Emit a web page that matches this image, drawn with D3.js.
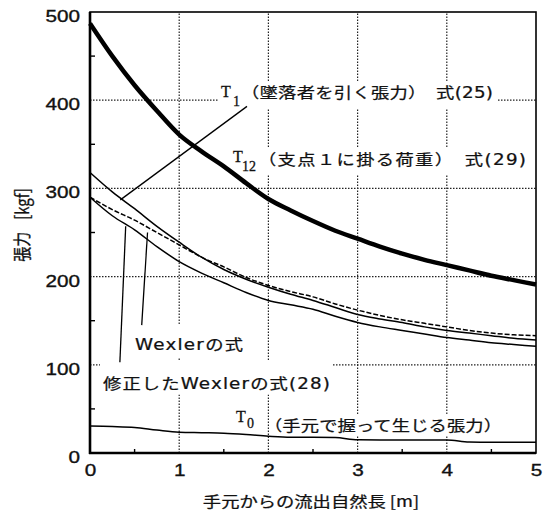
<!DOCTYPE html>
<html>
<head>
<meta charset="utf-8">
<script src="https://cdn.jsdelivr.net/npm/d3@7"></script>
<style>
  html, body { margin: 0; padding: 0; background: #fff; }
  svg { display: block; }
</style>
</head>
<body>
<svg id="chart" width="548" height="516"></svg>
<script>
// Natural slack length paid out from the hand [m]
const lengthM = [0, 0.25, 0.5, 0.75, 1, 1.25, 1.5, 1.75, 2, 2.25, 2.5, 2.75, 3, 3.25, 3.5, 3.75, 4, 4.25, 4.5, 4.75, 5];
// Tension series [kgf]
const tensionT12 = [487, 450, 417, 388, 361, 342, 325, 306, 288, 275, 263, 252, 243, 234, 226, 219, 213, 207, 201, 196, 191];
const tensionT1 = [318, 296, 277, 257, 239, 222, 208, 197, 188, 180, 173, 165, 157, 152, 148, 143, 139, 136, 133, 130, 128];
const tensionWexler = [290, 276, 264, 250, 236, 222, 211, 199, 190, 183, 177, 169, 162, 156, 151, 147, 143, 139, 136, 134, 133];
const tensionWexlerModified = [290, 269, 253, 234, 217, 204, 193, 182, 173, 168, 163, 155, 148, 143, 139, 135, 131, 128, 125, 123, 121];
const tensionT0 = [30.5, 30, 29, 26, 23.5, 23, 22.5, 21, 19, 17.8, 17.8, 17.5, 15, 14.8, 14.8, 14.8, 14.8, 12.5, 12.2, 12.2, 12.2];

// Axes
const xTickValues = [0, 1, 2, 3, 4, 5];
const yTickValues = [0, 100, 200, 300, 400, 500];
const xMinorTicks = [0.5, 1.5, 2.5, 3.5, 4.5];
const yMinorTicks = [50, 150, 250, 350, 450];
const xGridValues = [1, 2, 3, 4];
const yGridValues = [100, 200, 300, 400];
const xAxisTitle = "手元からの流出自然長 [m]";
const yAxisTitle = ["張力", "[kgf]"];

// Curve annotations
const symbolSubscripts = ["1", "12", "0"];
const curveNotes = [
  "（墜落者を引く張力）　式(25)",
  "（支点１に掛る荷重）　式(29)",
  "（手元で握って生じる張力）",
  "Wexlerの式",
  "修正したWexlerの式(28)"
];
// Leader lines: [from, to] in [m, kgf]
const leaderT1 = [[0.34, 287], [1.76, 393]];
const leaderWexlerModified = [[0.335, 103], [0.40, 257]];
const leaderWexler = [[0.58, 145], [0.645, 250]];

const SX = 1.22; // horizontal stretch of all lettering
const JP = "'Noto Sans CJK JP', 'Noto Sans CJK SC', sans-serif";
const LATIN = "'DejaVu Sans', 'Liberation Sans', sans-serif";
const NUM = "'Liberation Sans', Arial, sans-serif";
const SERIF = "'Liberation Serif', 'Times New Roman', serif";
const INK = "#111";

const svg = d3.select("#chart");
const x = d3.scaleLinear().domain([0, 5]).range([90, 536]);
const y = d3.scaleLinear().domain([0, 500]).range([453, 12]);

const gGrid = svg.append("g");
const gBoxes = svg.append("g");
const gCurves = svg.append("g");
const gFrame = svg.append("g");
const gText = svg.append("g");

// Dotted grid
gGrid.selectAll("line.vx").data(xGridValues).join("line")
  .attr("x1", d => x(d)).attr("x2", d => x(d))
  .attr("y1", y(0)).attr("y2", y(500))
  .attr("stroke", "#222").attr("stroke-width", 1.2).attr("stroke-dasharray", "1.5,1.5");
gGrid.selectAll("line.hy").data(yGridValues).join("line")
  .attr("x1", x(0)).attr("x2", x(5))
  .attr("y1", d => y(d)).attr("y2", d => y(d))
  .attr("stroke", "#222").attr("stroke-width", 1.2).attr("stroke-dasharray", "1.5,1.5");

// Curves
const line = d3.line()
  .x((d, i) => x(lengthM[i]))
  .y(d => y(d))
  .curve(d3.curveMonotoneX);

const series = [
  { values: tensionT12, width: 4.5, dash: null },
  { values: tensionT1, width: 1.5, dash: null },
  { values: tensionWexler, width: 1.5, dash: "5,2" },
  { values: tensionWexlerModified, width: 1.5, dash: null },
  { values: tensionT0, width: 1.5, dash: null }
];
gCurves.selectAll("path.series").data(series).join("path")
  .attr("class", "series")
  .attr("d", d => line(d.values))
  .attr("fill", "none")
  .attr("stroke", "#000")
  .attr("stroke-width", d => d.width)
  .attr("stroke-dasharray", d => d.dash)
  .attr("stroke-linejoin", "round");

// Leader lines
gCurves.selectAll("line.leader").data([leaderT1, leaderWexlerModified, leaderWexler]).join("line")
  .attr("class", "leader")
  .attr("x1", d => x(d[0][0])).attr("y1", d => y(d[0][1]))
  .attr("x2", d => x(d[1][0])).attr("y2", d => y(d[1][1]))
  .attr("stroke", "#000").attr("stroke-width", 1.3);

// Frame
gFrame.append("rect")
  .attr("x", x(0)).attr("y", y(500))
  .attr("width", x(5) - x(0)).attr("height", y(0) - y(500))
  .attr("fill", "none").attr("stroke", "#000").attr("stroke-width", 1.6);
gFrame.append("line").attr("x1", x(0)).attr("x2", x(0)).attr("y1", y(500)).attr("y2", y(0) + 1)
  .attr("stroke", "#000").attr("stroke-width", 2.6);
gFrame.append("line").attr("x1", x(0) - 1).attr("x2", x(5)).attr("y1", y(0)).attr("y2", y(0))
  .attr("stroke", "#000").attr("stroke-width", 2.6);

// Minor ticks inside the frame
gFrame.selectAll("line.mx").data(xMinorTicks).join("line")
  .attr("x1", d => x(d)).attr("x2", d => x(d))
  .attr("y1", y(0)).attr("y2", y(0) - 4)
  .attr("stroke", "#000").attr("stroke-width", 1.4);
gFrame.selectAll("line.my").data(yMinorTicks).join("line")
  .attr("x1", x(0)).attr("x2", x(0) + 5)
  .attr("y1", d => y(d)).attr("y2", d => y(d))
  .attr("stroke", "#000").attr("stroke-width", 1.4);

// Tick labels via d3 axes
const xAxis = gText.append("g")
  .attr("transform", `translate(0,${y(0)})`)
  .call(d3.axisBottom(x).tickValues(xTickValues).tickFormat(d3.format("d")).tickSize(0).tickPadding(11));
const yAxis = gText.append("g")
  .attr("transform", `translate(${x(0)},0)`)
  .call(d3.axisLeft(y).tickValues(yTickValues).tickFormat(d3.format("d")).tickSize(0).tickPadding(8));
[xAxis, yAxis].forEach(a => {
  a.select(".domain").remove();
  a.selectAll("text")
    .attr("font-family", NUM)
    .attr("font-size", 17)
    .attr("fill", INK)
    .attr("stroke", INK).attr("stroke-width", 0.35);
});
xAxis.selectAll("text").attr("transform", `scale(${SX},1)`);
yAxis.selectAll("text").attr("x", -10 / SX).attr("y", 4).attr("transform", `scale(${SX},1)`);

// Axis titles
gText.append("text")
  .attr("transform", `translate(${(x(0) + x(5)) / 2 - 2},${507}) scale(${SX},1)`)
  .attr("text-anchor", "middle")
  .attr("font-family", JP).attr("font-size", 15).attr("fill", INK)
  .attr("stroke", INK).attr("stroke-width", 0.25)
  .text(xAxisTitle);
const yTitle = gText.append("text")
  .attr("transform", `translate(29,225) scale(${SX},1) rotate(-90)`)
  .attr("text-anchor", "middle")
  .attr("font-family", JP).attr("font-size", 15).attr("fill", INK)
  .attr("stroke", INK).attr("stroke-width", 0.25);
yTitle.append("tspan").text(yAxisTitle[0]);
yTitle.append("tspan").attr("dx", 12).text(yAxisTitle[1]);

// Annotation helpers: Latin runs are set in a wider face than the kana/kanji
function stretchedNote(parent, left, base, str, width) {
  const t = parent.append("text")
    .attr("transform", `translate(${left},${base}) scale(${SX},1)`)
    .attr("font-family", JP).attr("font-size", 15).attr("fill", INK)
    .attr("stroke", INK).attr("stroke-width", 0.25)
    .attr("textLength", width / SX).attr("lengthAdjust", "spacing");
  str.split(/([A-Za-z0-9()]+)/).filter(s => s.length).forEach(s => {
    const sp = t.append("tspan").text(s);
    if (/^[A-Za-z0-9()]+$/.test(s)) sp.attr("font-family", LATIN);
  });
  return t;
}
function tensionSymbol(parent, left, base, sub, subDx, subDy) {
  const g = parent.append("g").attr("transform", `translate(${left},${base})`);
  g.append("text").attr("font-family", SERIF).attr("font-size", 16).attr("fill", INK)
    .attr("stroke", INK).attr("stroke-width", 0.3).text("T");
  g.append("text").attr("x", subDx).attr("y", subDy).attr("font-family", SERIF)
    .attr("font-size", 14).attr("fill", INK).attr("stroke", INK).attr("stroke-width", 0.3).text(sub);
  return g;
}
function backdrop(nodes, pad) {
  const boxes = nodes.map(n => n.node().getBoundingClientRect());
  const x0 = d3.min(boxes, b => b.left) - pad[0];
  const y0 = d3.min(boxes, b => b.top) - pad[1];
  const x1 = d3.max(boxes, b => b.right) + pad[2];
  const y1 = d3.max(boxes, b => b.bottom) + pad[3];
  gBoxes.append("rect").attr("x", x0).attr("y", y0).attr("width", x1 - x0).attr("height", y1 - y0).attr("fill", "#fff");
}

// T1 note
const s1 = tensionSymbol(gText, 221, 97, symbolSubscripts[0], 12, 9);
const n1 = stretchedNote(gText, 241, 98, curveNotes[0], 252);
backdrop([s1, n1], [3, 0, 5, 0]);

// T12 note
const s12 = tensionSymbol(gText, 233, 162, symbolSubscripts[1], 9, 9);
const n12 = stretchedNote(gText, 258, 165, curveNotes[1], 268);
backdrop([s12, n12], [2, 0, 2, 0]);

// T0 note
const s0 = tensionSymbol(gText, 236, 422, symbolSubscripts[2], 11, 6);
const n0 = stretchedNote(gText, 264, 431, curveNotes[2], 238);
backdrop([n0], [-6, 0, 2, 0]);

// Wexler notes
const nw = stretchedNote(gText, 135, 350, curveNotes[3], 108);
backdrop([nw], [3, 8, 3, 3]);
const nwm = stretchedNote(gText, 103, 389, curveNotes[4], 227);
backdrop([nwm], [3, 11, 3, 1]);
</script>
</body>
</html>
